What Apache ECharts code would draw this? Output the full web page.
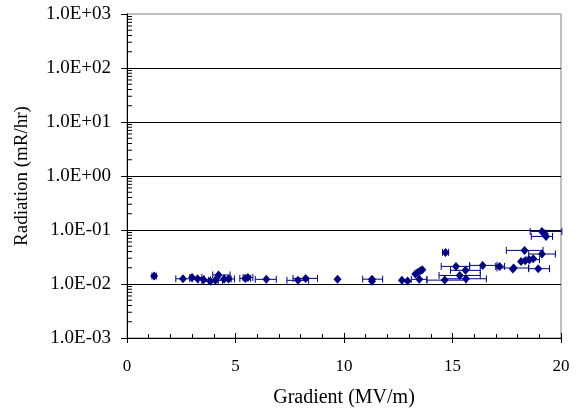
<!DOCTYPE html>
<html>
<head>
<meta charset="utf-8">
<script src="https://cdn.jsdelivr.net/npm/echarts@6/dist/echarts.min.js"></script>
<style>
  html, body { margin: 0; padding: 0; background: #fff; }
  #chart { width: 578px; height: 416px; }
</style>
</head>
<body>
<div id="chart"></div>
<script>
// Measured accelerating gradient (MV/m) and radiation dose rate (mR/hr)
var gradient = [
  1.25, 2.58, 3.00, 3.25, 3.53, 3.84, 4.07, 4.22, 4.48, 4.68,
  5.45, 5.57, 6.42, 7.88, 8.23, 9.70, 11.29, 11.29, 12.67, 12.93,
  13.47, 13.29, 13.39, 13.52, 13.61, 14.68, 14.64, 15.62, 15.33, 15.16,
  15.60, 16.39, 17.17, 17.82, 17.78, 18.95, 18.32, 19.12, 18.16, 18.35,
  18.54, 18.72, 19.12, 19.31, 19.25
];
var radiation = [
  0.0140, 0.0125, 0.0132, 0.0125, 0.0120, 0.0112, 0.0117, 0.0147, 0.0124, 0.0124,
  0.0127, 0.0132, 0.0122, 0.0117, 0.0127, 0.0122, 0.0123, 0.0112, 0.0117, 0.0114,
  0.0122, 0.0153, 0.0164, 0.0176, 0.0184, 0.0385, 0.0118, 0.0125, 0.0144, 0.0212,
  0.0179, 0.0221, 0.0212, 0.0198, 0.0190, 0.0192, 0.0419, 0.0359, 0.0262, 0.0270,
  0.0282, 0.0294, 0.0940, 0.0760, 0.0850
];
// Lower / upper gradient bounds of each measurement (null = no bar)
var gradientLow = [
  1.15, 2.25, 2.90, 3.00, 3.30, 3.45, 3.75, 3.95, 4.20, 4.45,
  5.20, 5.35, 5.91, 7.37, 7.65, null, 10.86, null, null, null,
  13.10, null, null, null, null, 14.54, 13.82, 14.64, 14.38, 14.48,
  14.91, 15.79, 16.99, 17.05, null, 18.51, 17.48, 18.51, null, null,
  18.43, null, 18.58, 18.63, null
];
var gradientHigh = [
  1.35, 2.90, 3.45, 3.55, 3.85, 4.20, 4.40, 4.75, 4.80, 4.95,
  5.70, 5.80, 6.88, 8.37, 8.78, null, 11.78, null, null, null,
  13.82, null, null, null, null, 14.82, 15.62, 16.56, 16.28, 15.79,
  16.28, 17.05, 17.40, 18.51, null, 19.47, 19.17, 19.74, null, null,
  19.01, null, 20.04, 19.61, null
];

// Axis ticks
var xTicks = [0, 5, 10, 15, 20];
var yDecades = [0.001, 0.01, 0.1, 1, 10, 100, 1000];
var yMinorFactors = [2, 3, 4, 5, 6, 7, 8, 9];

var points = gradient.map(function (g, i) { return [g, radiation[i]]; });
var errorBars = [];
gradient.forEach(function (g, i) {
  if (gradientLow[i] != null) errorBars.push([gradientLow[i], gradientHigh[i], radiation[i]]);
});
var minorTickValues = [];
yDecades.slice(0, -1).forEach(function (d) {
  yMinorFactors.forEach(function (f) { minorTickValues.push([0, f * d]); });
});

function sciLabel(v) {
  var e = Math.round(Math.log10(v));
  var s = e < 0 ? '-' : '+';
  var a = Math.abs(e);
  return '1.0E' + s + (a < 10 ? '0' + a : a);
}

var NAVY = '#000080';
var FONT = '"Liberation Serif", "Times New Roman", serif';

var chart = echarts.init(document.getElementById('chart'), null, { renderer: 'canvas' });
chart.setOption({
  animation: false,
  backgroundColor: '#ffffff',
  grid: {
    left: 127, right: 17, top: 14, bottom: 78,
    show: true, borderColor: '#808080', borderWidth: 1, backgroundColor: 'transparent'
  },
  xAxis: [
    {
      type: 'value', min: xTicks[0], max: xTicks[xTicks.length - 1], interval: 5,
      name: 'Gradient (MV/m)', nameLocation: 'middle', nameGap: 50,
      nameTextStyle: { fontFamily: FONT, fontSize: 20, color: '#000' },
      axisLine: { show: true, onZero: false, lineStyle: { color: '#000', width: 1 } },
      axisTick: { show: true, inside: false, length: 5, lineStyle: { color: '#000' } },
      axisLabel: { fontFamily: FONT, fontSize: 17, color: '#000', margin: 20 },
      splitLine: { show: false }
    },
    {
      type: 'value', min: xTicks[0], max: xTicks[xTicks.length - 1], interval: 5,
      position: 'bottom',
      axisLine: { show: false, onZero: false },
      axisTick: { show: true, inside: true, length: 5, lineStyle: { color: '#000' } },
      minorTick: { show: true, splitNumber: 5, length: 4, lineStyle: { color: '#000' } },
      axisLabel: { show: false },
      splitLine: { show: false }
    }
  ],
  yAxis: {
    type: 'log', logBase: 10, min: yDecades[0], max: yDecades[yDecades.length - 1],
    splitNumber: 6,
    name: 'Radiation (mR/hr)', nameLocation: 'middle', nameGap: 95,
    nameTextStyle: { fontFamily: FONT, fontSize: 19, color: '#000' },
    axisLine: { show: true, onZero: false, lineStyle: { color: '#000', width: 1 } },
    axisTick: { show: true, inside: false, length: 6, lineStyle: { color: '#000' } },
    axisLabel: { fontFamily: FONT, fontSize: 19, color: '#000', margin: 16, formatter: sciLabel },
    splitLine: { show: true, showMaxLine: false, lineStyle: { color: '#000', width: 1 } }
  },
  series: [
    {
      // logarithmic minor ticks on the inside of the vertical axis
      type: 'custom',
      xAxisIndex: 0,
      silent: true,
      clip: false,
      data: minorTickValues,
      renderItem: function (params, api) {
        var p = api.coord([api.value(0), api.value(1)]);
        return {
          type: 'line',
          shape: { x1: p[0], y1: p[1], x2: p[0] + 5, y2: p[1] },
          style: { stroke: '#000', lineWidth: 1 }
        };
      },
      z: 3
    },
    {
      // horizontal gradient error bars
      type: 'custom',
      xAxisIndex: 0,
      silent: true,
      data: errorBars,
      renderItem: function (params, api) {
        var y = api.value(2);
        var a = api.coord([api.value(0), y]);
        var b = api.coord([api.value(1), y]);
        var c = 3.5;
        var st = { stroke: NAVY, lineWidth: 1 };
        return {
          type: 'group',
          children: [
            { type: 'line', shape: { x1: a[0], y1: a[1], x2: b[0], y2: b[1] }, style: st },
            { type: 'line', shape: { x1: a[0], y1: a[1] - c, x2: a[0], y2: a[1] + c }, style: st },
            { type: 'line', shape: { x1: b[0], y1: b[1] - c, x2: b[0], y2: b[1] + c }, style: st }
          ]
        };
      },
      z: 4
    },
    {
      type: 'scatter',
      xAxisIndex: 0,
      symbol: 'diamond',
      symbolSize: [8, 9],
      itemStyle: { color: NAVY, opacity: 1 },
      data: points,
      z: 5
    }
  ]
});
</script>
</body>
</html>
